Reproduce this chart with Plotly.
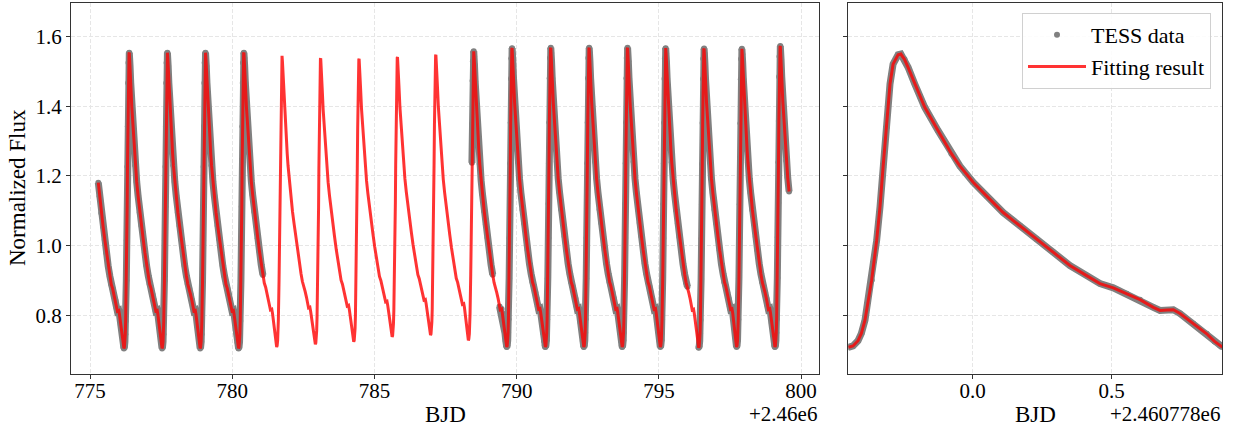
import plotly.graph_objects as go

# one pulsation cycle (BJD - 2460778, normalized flux)
tmpl_t = [-0.447, -0.430, -0.412, -0.400, -0.387, -0.363, -0.345, -0.333, -0.322, -0.309,
          -0.297, -0.286, -0.268, -0.258, -0.245, -0.232, -0.208, -0.172, -0.124, -0.076,
          -0.046, 0.002, 0.050, 0.110, 0.170, 0.230, 0.290, 0.350, 0.410, 0.458,
          0.506, 0.554, 0.602, 0.650, 0.674, 0.700, 0.722, 0.746, 0.794, 0.842,
          0.870, 0.890, 0.898]
tmpl_f = [0.708, 0.712, 0.727, 0.748, 0.786, 0.901, 1.015, 1.111, 1.225, 1.340,
          1.464, 1.521, 1.548, 1.550, 1.535, 1.512, 1.464, 1.397, 1.330, 1.264,
          1.229, 1.182, 1.143, 1.095, 1.057, 1.019, 0.981, 0.943, 0.914, 0.891,
          0.879, 0.862, 0.845, 0.823, 0.814, 0.815, 0.816, 0.805, 0.776, 0.747,
          0.725, 0.713, 0.709]

# per-cycle maxima times (BJD - 2460000), peak flux, and minimum flux just before each peak
peak_t = [775.03, 776.38, 777.72, 779.06, 780.41, 781.75, 783.11, 784.46, 785.81, 787.16,
          788.49, 789.84, 791.20, 792.55, 793.90, 795.24, 796.59, 797.92, 799.27]
peak_f = [1.550, 1.554, 1.554, 1.554, 1.554, 1.545, 1.538, 1.536, 1.541, 1.548,
          1.558, 1.567, 1.568, 1.568, 1.568, 1.567, 1.566, 1.565, 1.573]
min_f = [0.709, 0.705, 0.705, 0.705, 0.705, 0.709, 0.717, 0.724, 0.738, 0.743,
         0.728, 0.709, 0.709, 0.709, 0.709, 0.709, 0.707, 0.709, 0.709]

# stretches covered by TESS observations
obs_start = [775.27, 788.42, 789.39, 796.39]
obs_end = [781.08, 789.18, 796.04, 799.61]

t_first, t_last = 775.27, 799.61

ipk = tmpl_f.index(max(tmpl_f))
fmin, fmax = min(tmpl_f), max(tmpl_f)

model_t, model_f = [], []
for c, p in enumerate(peak_t):
    m_next = min_f[c + 1] if c + 1 < len(min_f) else min_f[-1]
    t_stop = peak_t[c + 1] + tmpl_t[0] - tmpl_t[ipk] if c + 1 < len(peak_t) else 1e9
    for i, (t, f) in enumerate(zip(tmpl_t, tmpl_f)):
        tt = p + t - tmpl_t[ipk]
        if tt >= t_stop:
            break
        m = min_f[c] if i <= ipk else m_next
        ff = m + (f - fmin) * (peak_f[c] - m) / (fmax - fmin)
        if t_first <= tt <= t_last:
            model_t.append(tt)
            model_f.append(ff)

data_t, data_f = [], []
band_t, band_f = [], []
for s, e in zip(obs_start, obs_end):
    for tt, ff in zip(model_t, model_f):
        if s <= tt <= e:
            data_t.append(tt)
            data_f.append(ff)
            band_t.append(tt)
            band_f.append(ff)
    band_t.append(None)
    band_f.append(None)

GREY = "#808080"
RED = "rgba(255,0,0,0.8)"
FONT = "Liberation Serif"

fig = go.Figure()

# left panel
fig.add_trace(go.Scatter(x=band_t, y=band_f, mode="lines", line=dict(color=GREY, width=7),
                         showlegend=False, hoverinfo="skip", xaxis="x", yaxis="y"))
fig.add_trace(go.Scatter(x=data_t, y=data_f, mode="markers", marker=dict(color=GREY, size=6),
                         showlegend=False, xaxis="x", yaxis="y"))
fig.add_trace(go.Scatter(x=model_t, y=model_f, mode="lines", line=dict(color=RED, width=3),
                         showlegend=False, xaxis="x", yaxis="y"))

# right panel (folded)
fig.add_trace(go.Scatter(x=tmpl_t, y=tmpl_f, mode="lines", line=dict(color=GREY, width=7),
                         showlegend=False, hoverinfo="skip", xaxis="x2", yaxis="y2"))
fig.add_trace(go.Scatter(x=tmpl_t, y=tmpl_f, mode="markers", marker=dict(color=GREY, size=6),
                         name="TESS data", xaxis="x2", yaxis="y2"))
fig.add_trace(go.Scatter(x=tmpl_t, y=tmpl_f, mode="lines", line=dict(color=RED, width=3),
                         name="Fitting result", xaxis="x2", yaxis="y2"))

W, H = 1237, 429
ax_common = dict(showline=True, linecolor="#333333", linewidth=1, mirror=True,
                 ticks="outside", ticklen=4, tickcolor="#333333",
                 showgrid=True, gridcolor="#e6e6e6", griddash="4px,2px", gridwidth=1,
                 zeroline=False, tickfont=dict(family=FONT, size=21, color="black"))
yrange = [0.6315, 1.6966]
ydom = [1 - 374 / H, 1 - 3 / H]

fig.update_layout(
    width=W, height=H,
    margin=dict(l=0, r=0, t=0, b=0),
    paper_bgcolor="white", plot_bgcolor="white",
    font=dict(family=FONT, color="black"),
    xaxis=dict(domain=[71 / W, 819 / W], range=[774.33, 800.63],
               tickvals=[775, 780, 785, 790, 795, 800], ticklabelstandoff=-6, **ax_common),
    yaxis=dict(domain=ydom, range=yrange, tickvals=[0.8, 1.0, 1.2, 1.4, 1.6],
               tickformat=".1f", **ax_common),
    xaxis2=dict(domain=[848.3 / W, 1222.3 / W], range=[-0.447, 0.898],
                tickvals=[0.0, 0.5], tickformat=".1f", anchor="y2", ticklabelstandoff=-6,
                **ax_common),
    yaxis2=dict(domain=ydom, range=yrange, tickvals=[0.8, 1.0, 1.2, 1.4, 1.6],
                showticklabels=False, anchor="x2", **ax_common),
    legend=dict(x=1211 / W, y=1 - 13 / H, xanchor="right", yanchor="top",
                bgcolor="rgba(255,255,255,0.85)", bordercolor="#d0d0d0", borderwidth=1,
                font=dict(family=FONT, size=22, color="black"), itemwidth=58),
    annotations=[
        dict(text="BJD", x=(71 + 819) / 2 / W, y=1 - 414 / H, xref="paper", yref="paper",
             showarrow=False, font=dict(family=FONT, size=23), xanchor="center", yanchor="middle"),
        dict(text="+2.46e6", x=819 / W, y=1 - 414 / H, xref="paper", yref="paper",
             showarrow=False, font=dict(family=FONT, size=21), xanchor="right", yanchor="middle"),
        dict(text="BJD", x=(848.3 + 1222.3) / 2 / W, y=1 - 414 / H, xref="paper", yref="paper",
             showarrow=False, font=dict(family=FONT, size=23), xanchor="center", yanchor="middle"),
        dict(text="+2.460778e6", x=1222.3 / W, y=1 - 414 / H, xref="paper", yref="paper",
             showarrow=False, font=dict(family=FONT, size=21), xanchor="right", yanchor="middle"),
        dict(text="Normalized Flux", x=17 / W, y=1 - 188 / H, xref="paper", yref="paper",
             showarrow=False, textangle=-90, font=dict(family=FONT, size=23),
             xanchor="center", yanchor="middle"),
    ],
)

fig.write_html("out.html", config={"displayModeBar": False},
               post_script="document.body.style.margin='0';")
